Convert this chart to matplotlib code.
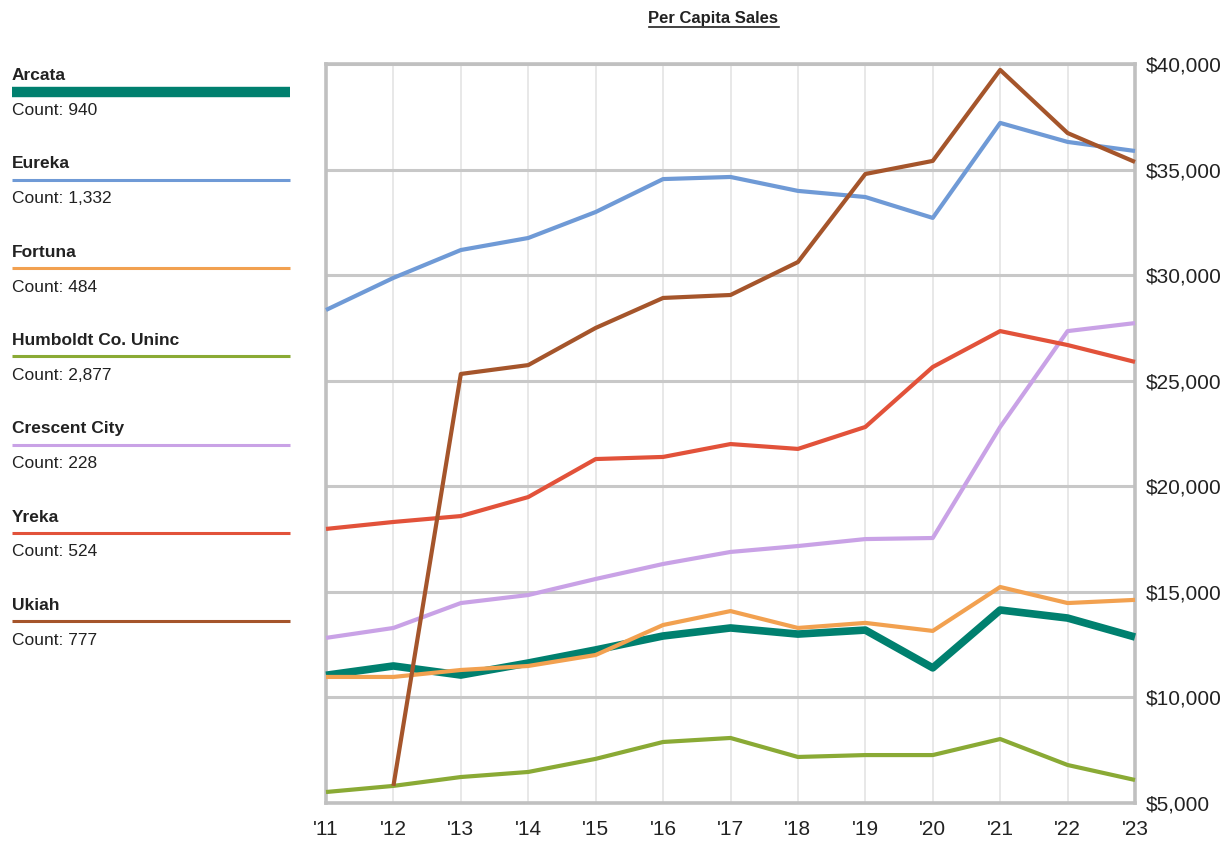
import matplotlib.pyplot as plt
from matplotlib.lines import Line2D

plt.rcParams['font.family'] = ['Liberation Sans', 'DejaVu Sans']

# data
years = list(range(2011, 2024))
year_labels = ["'11", "'12", "'13", "'14", "'15", "'16", "'17", "'18", "'19", "'20", "'21", "'22", "'23"]

cities = ['Arcata', 'Eureka', 'Fortuna', 'Humboldt Co. Uninc', 'Crescent City', 'Yreka', 'Ukiah']
counts = ['940', '1,332', '484', '2,877', '228', '524', '777']
colors = ['#00806f', '#6f9ad6', '#f2a150', '#8aaa35', '#c9a2e6', '#e2523a', '#a5552b']

arcata = [11050, 11490, 11060, 11630, 12250, 12910, 13290, 13000, 13190, 11400, 14140, 13760, 12860]
eureka = [28350, 29870, 31190, 31760, 32990, 34550, 34650, 33990, 33700, 32710, 37210, 36310, 35880]
fortuna = [10970, 10970, 11300, 11490, 12010, 13430, 14090, 13290, 13530, 13150, 15230, 14470, 14620]
humboldt = [5520, 5810, 6230, 6470, 7090, 7890, 8080, 7180, 7270, 7270, 8030, 6800, 6090]
crescent = [12820, 13290, 14470, 14850, 15610, 16320, 16890, 17170, 17500, 17550, 22810, 27350, 27730]
yreka = [17980, 18310, 18590, 19490, 21290, 21390, 22000, 21770, 22810, 25650, 27350, 26690, 25890]
ukiah = [None, 5810, 25320, 25740, 27500, 28920, 29060, 30620, 34790, 35410, 39720, 36730, 35360]

series = [arcata, eureka, fortuna, humboldt, crescent, yreka, ukiah]
widths = [5.5, 3, 3, 3, 3, 3, 3]
legend_widths = [7.5, 2.2, 2.2, 2.2, 2.2, 2.2, 2.2]

yticks = list(range(5000, 40001, 5000))

W, H = 1229, 842
fig = plt.figure(figsize=(W / 100, H / 100), dpi=100)
ax = fig.add_axes([326 / W, 1 - 803 / H, (1135 - 326) / W, (803 - 64) / H])

for vals, c, lw in zip(series, colors, widths):
    xs = [x for x, v in zip(years, vals) if v is not None]
    ys = [v for v in vals if v is not None]
    ax.plot(xs, ys, color=c, lw=lw, solid_joinstyle='round', solid_capstyle='butt', zorder=3, clip_on=False)

ax.set_xlim(2011, 2023)
ax.set_ylim(5000, 40000)
ax.set_xticks(years)
ax.set_xticklabels(year_labels)
ax.set_yticks(yticks)
ax.set_yticklabels(['${:,}'.format(v) for v in yticks])
ax.yaxis.tick_right()
ax.tick_params(axis='both', length=0, labelsize=15, colors='#222222')
ax.tick_params(axis='y', pad=8)
ax.tick_params(axis='x', pad=12.5)

ax.grid(axis='y', color='#c8c8c8', lw=2.2, zorder=1)
ax.grid(axis='x', color='#e6e6e6', lw=1.3, zorder=1)
for s in ax.spines.values():
    s.set_color('#c0c0c0')
    s.set_linewidth(2.6)
    s.set_zorder(2)

# legend on the left
leg = fig.add_axes([0, 0, 1, 1])
leg.set_xlim(0, W)
leg.set_ylim(H, 0)
leg.axis('off')
for i, (name, cnt, c, lw) in enumerate(zip(cities, counts, colors, legend_widths)):
    y0 = 75.5 + i * 88.3
    leg.text(12, y0, name, fontsize=12.5, fontweight='bold', color='#222222', va='center', ha='left')
    leg.add_line(Line2D([12, 290], [y0 + 16, y0 + 16], color=c, lw=lw, solid_capstyle='butt'))
    leg.text(12, y0 + 35, 'Count: ' + cnt, fontsize=12.5, color='#222222', va='center', ha='left')

# underlined title
t = leg.text(713.5, 18, 'Per Capita Sales', fontsize=12, fontweight='bold', color='#222222', ha='center', va='center')
fig.canvas.draw()
bb = t.get_window_extent()
leg.add_line(Line2D([bb.x0, bb.x1], [H - bb.y0 + 1, H - bb.y0 + 1], color='#222222', lw=1.2))

fig.savefig('out.png', dpi=100)
